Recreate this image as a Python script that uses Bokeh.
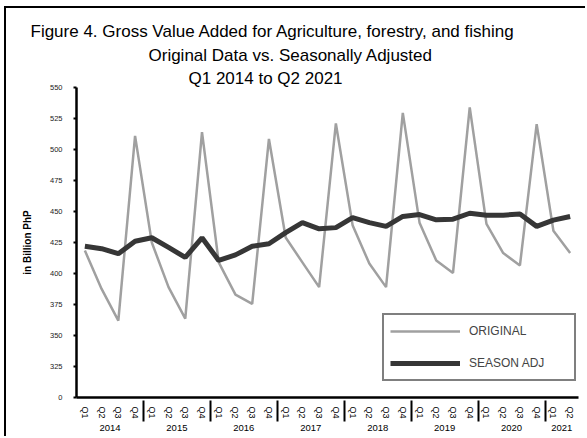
from bokeh.plotting import figure
from bokeh.models import (FactorRange, Range1d, FixedTicker, Legend, LegendItem,
                          Title, ColumnDataSource, InlineStyleSheet)
from bokeh.embed import file_html
from bokeh.resources import INLINE

# ---- data ----
years = ["2014", "2015", "2016", "2017", "2018", "2019", "2020", "2021"]
quarters = ["Q1", "Q2", "Q3", "Q4"]
factors = [(y, q) for y in years for q in quarters][:30]

original = [418.5, 387.6, 362.0, 511.0,
            425.0, 389.0, 363.6, 514.0,
            409.0, 383.0, 375.5, 508.5,
            429.0, 409.0, 389.0, 521.0,
            439.0, 408.0, 389.0, 529.5,
            441.0, 410.5, 400.5, 534.0,
            440.0, 416.5, 406.5, 520.5,
            434.5, 416.5]
season_adj = [422.0, 420.0, 416.0, 426.0,
              428.8, 421.0, 413.0, 428.8,
              410.5, 415.0, 422.0, 424.0,
              433.0, 441.0, 436.0, 437.0,
              445.0, 441.0, 438.0, 446.0,
              447.5, 443.3, 443.8, 448.6,
              447.0, 447.0, 448.0, 438.0,
              443.0, 446.0]
y_ticks = [300, 325, 350, 375, 400, 425, 450, 475, 500, 525, 550]
y_tick_overrides = {300: "0"}
title_lines = ["Figure 4. Gross Value Added for Agriculture, forestry, and fishing",
               "Original Data vs. Seasonally Adjusted",
               "Q1 2014 to Q2 2021"]

FONT = "Liberation Sans"

src = ColumnDataSource(dict(x=factors, orig=original, sa=season_adj))

p = figure(x_range=FactorRange(*factors, group_padding=0, subgroup_padding=0, factor_padding=0),
           y_range=Range1d(300, 550),
           width=581, height=430, output_backend="svg", toolbar_location=None,
           min_border_left=70, min_border_right=9, min_border_top=79, min_border_bottom=41)
p.stylesheets = [InlineStyleSheet(css=":host { margin-left: 4px; margin-top: 6px; "
                                      "border-left: 2px solid black; border-top: 2px solid black; }")]
p.title.visible = False
p.outline_line_color = None
p.xgrid.visible = False
p.ygrid.visible = False

r1 = p.line("x", "orig", source=src, line_color="#a0a0a0", line_width=2.5)
r2 = p.line("x", "sa", source=src, line_color="#363636", line_width=5)

# y axis
ya = p.yaxis[0]
ya.ticker = FixedTicker(ticks=y_ticks)
ya.major_label_overrides = y_tick_overrides
ya.minor_tick_line_color = None
ya.major_tick_in = 0
ya.major_tick_out = 3
ya.major_tick_line_width = 2
ya.axis_line_width = 2.5
ya.axis_line_color = "black"
ya.major_label_text_font = FONT
ya.major_label_text_font_size = "7.5px"
ya.major_label_text_color = "#222222"
ya.major_label_standoff = 11
ya.axis_label = "in Billion PhP"
ya.axis_label_text_font = FONT
ya.axis_label_text_font_style = "bold"
ya.axis_label_text_font_size = "10px"
ya.axis_label_text_color = "black"
ya.axis_label_standoff = 14

# x axis
xa = p.xaxis[0]
xa.axis_line_width = 2.5
xa.axis_line_color = "black"
xa.major_tick_line_color = None
xa.minor_tick_line_color = None
xa.major_label_orientation = "vertical"
xa.major_label_text_font = FONT
xa.major_label_text_font_size = "9px"
xa.major_label_text_color = "black"
xa.major_label_standoff = 3
xa.group_text_font = FONT
xa.group_text_font_size = "9.5px"
xa.group_text_font_style = "normal"
xa.group_text_color = "black"
xa.separator_line_color = "black"
xa.separator_line_width = 2

# legend
legend = Legend(items=[LegendItem(label="ORIGINAL", renderers=[r1]),
                       LegendItem(label="SEASON ADJ", renderers=[r2])],
                location=(306, 16), padding=6, spacing=12,
                label_height=20, glyph_height=20, glyph_width=70,
                label_standoff=9, label_width=99,
                label_text_font=FONT, label_text_font_size="12px",
                border_line_color="black", border_line_width=2,
                background_fill_alpha=1)
p.add_layout(legend)

# title: three centred lines (added nearest-first)
for txt, off, so in zip(reversed(title_lines), [112, 72, -46], [0, 3, 3]):
    p.add_layout(Title(text=txt, align="left", offset=off, standoff=so,
                       text_font=FONT, text_font_size="17px", text_font_style="normal",
                       text_color="black"), "above")

open("out.html", "w").write(file_html(p, INLINE))
